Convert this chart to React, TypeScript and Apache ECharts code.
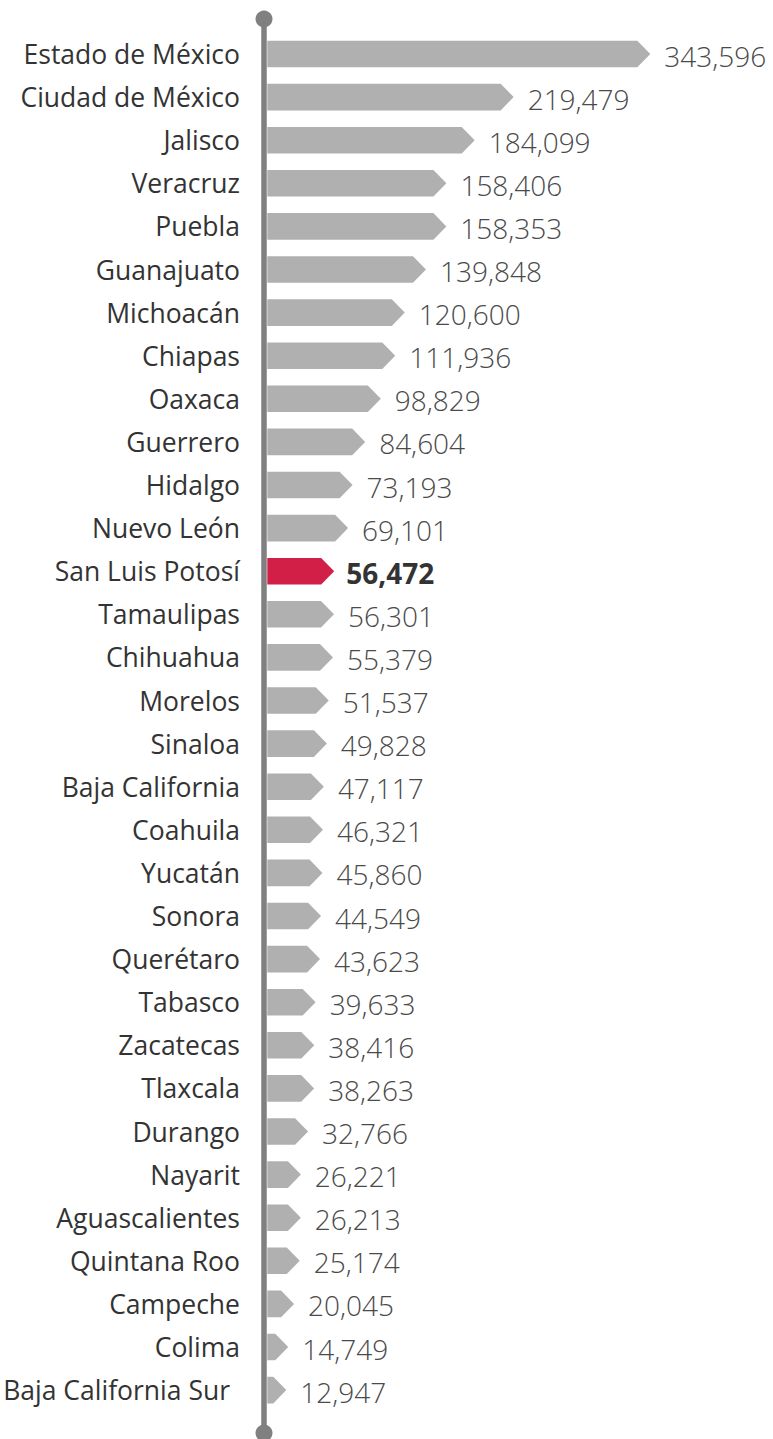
import React, { useEffect, useRef } from "react";
import * as echarts from "echarts";

const categories = [
  "Estado de México", "Ciudad de México", "Jalisco", "Veracruz", "Puebla", "Guanajuato",
  "Michoacán", "Chiapas", "Oaxaca", "Guerrero", "Hidalgo", "Nuevo León", "San Luis Potosí",
  "Tamaulipas", "Chihuahua", "Morelos", "Sinaloa", "Baja California", "Coahuila", "Yucatán",
  "Sonora", "Querétaro", "Tabasco", "Zacatecas", "Tlaxcala", "Durango", "Nayarit",
  "Aguascalientes", "Quintana Roo", "Campeche", "Colima", "Baja California Sur",
];

const values = [
  343596, 219479, 184099, 158406, 158353, 139848, 120600, 111936, 98829, 84604, 73193, 69101,
  56472, 56301, 55379, 51537, 49828, 47117, 46321, 45860, 44549, 43623, 39633, 38416, 38263,
  32766, 26221, 26213, 25174, 20045, 14749, 12947,
];

const highlight = "San Luis Potosí";

const GRAY = "#b0b0b0";
const RED = "#d21f47";
const AXIS = "#808080";

export default function App() {
  const ref = useRef<HTMLDivElement>(null);

  useEffect(() => {
    const chart = echarts.init(ref.current as HTMLDivElement, null, { renderer: "svg" });
    const data = values.map((v, i) => [v, i]);
    chart.setOption({
      animation: false,
      grid: { left: 272, right: 60.6, top: 32.45, bottom: 27.35 },
      xAxis: { type: "value", min: 0, max: 400000, show: false },
      yAxis: {
        type: "category",
        data: categories,
        inverse: true,
        axisLine: { show: false },
        axisTick: { show: false },
        splitLine: { show: false },
        axisLabel: {
          margin: 32,
          fontSize: 26.5,
          color: "#333333",
          fontFamily: "Open Sans",
          formatter: (val: string) =>
            val === "Baja California Sur" ? "{pad|" + val + "}" : val,
          rich: {
            pad: {
              fontSize: 26.5,
              color: "#333333",
              fontFamily: "Open Sans",
              padding: [0, 10, 0, 0],
            },
          },
        },
      },
      series: [
        {
          type: "custom",
          data,
          encode: { x: 0, y: 1 },
          renderItem: (params: any, api: any) => {
            const v = api.value(0);
            const idx = api.value(1);
            const pt = api.coord([v, idx]);
            const tipX = pt[0];
            const cy = pt[1];
            const x0 = api.coord([0, idx])[0] - 4.7;
            const h = 26.6;
            const d = Math.min(13, tipX - x0);
            const isHl = categories[idx] === highlight;
            return {
              type: "group",
              children: [
                {
                  type: "polygon",
                  shape: {
                    points: [
                      [x0, cy - h / 2],
                      [tipX - d, cy - h / 2],
                      [tipX, cy],
                      [tipX - d, cy + h / 2],
                      [x0, cy + h / 2],
                    ],
                  },
                  style: { fill: isHl ? RED : GRAY },
                },
                {
                  type: "text",
                  x: tipX + (isHl ? 12 : 14),
                  y: cy + 1.5,
                  style: {
                    text: v.toLocaleString("en-US"),
                    fontSize: 28,
                    fontFamily: "Open Sans",
                    fontWeight: isHl ? "bold" : 300,
                    fill: isHl ? "#333333" : "#4a4a4a",
                    verticalAlign: "middle",
                    align: "left",
                  },
                },
              ],
            };
          },
        },
      ],
      graphic: [
        {
          type: "line",
          shape: { x1: 264, y1: 19, x2: 264, y2: 1433 },
          style: { stroke: AXIS, lineWidth: 5.5 },
          z: 10,
        },
        { type: "circle", shape: { cx: 264, cy: 19, r: 8.5 }, style: { fill: AXIS }, z: 10 },
        { type: "circle", shape: { cx: 264, cy: 1433, r: 8.5 }, style: { fill: AXIS }, z: 10 },
      ],
    });
    return () => chart.dispose();
  }, []);

  return (
    <div
      ref={ref}
      style={{ position: "absolute", left: 0, top: 0, width: 773, height: 1439 }}
    />
  );
}
